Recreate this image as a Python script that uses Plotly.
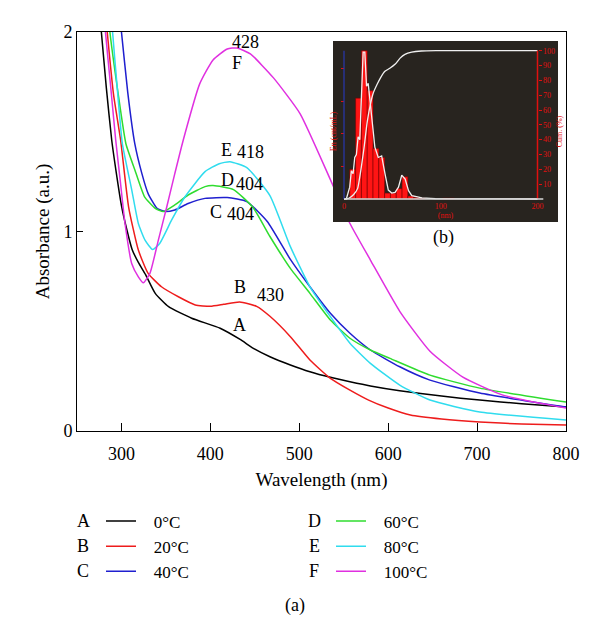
import plotly.graph_objects as go

# ---------------- main spectra (wavelength nm, absorbance a.u.) ----------------
wl_A = [268, 277, 283, 289, 295, 300, 306, 312, 319, 327, 338, 353, 379, 411, 433, 450, 467, 490, 512, 535, 557, 580, 613, 660, 703, 750, 800]
abs_A = [2.45, 2.02, 1.72, 1.46, 1.27, 1.13, 1.01, 0.91, 0.845, 0.785, 0.69, 0.623, 0.565, 0.515, 0.46, 0.41, 0.372, 0.331, 0.297, 0.269, 0.247, 0.226, 0.202, 0.175, 0.155, 0.137, 0.12]

wl_B = [275, 284, 291, 299, 308, 319, 330, 345, 364, 383, 400, 415, 433, 452, 467, 490, 512, 535, 557, 578, 600, 625, 660, 703, 750, 800]
abs_B = [2.45, 2.0, 1.69, 1.46, 1.124, 0.907, 0.79, 0.723, 0.673, 0.632, 0.625, 0.635, 0.647, 0.625, 0.575, 0.473, 0.356, 0.264, 0.205, 0.155, 0.115, 0.08, 0.06, 0.045, 0.035, 0.03]

wl_C = [292, 300, 307, 315, 323, 330, 340, 349, 360, 375, 394, 419, 441, 464, 490, 512, 535, 557, 580, 613, 647, 703, 800]
abs_C = [2.3, 2.0, 1.7, 1.44, 1.29, 1.19, 1.116, 1.10, 1.108, 1.14, 1.166, 1.17, 1.15, 1.05, 0.86, 0.723, 0.59, 0.49, 0.406, 0.322, 0.255, 0.19, 0.12]

wl_D = [278, 287, 296, 305, 315, 326, 338, 347, 360, 375, 394, 403, 426, 448, 467, 490, 512, 535, 557, 580, 602, 647, 703, 800]
abs_D = [2.45, 2.0, 1.70, 1.44, 1.31, 1.174, 1.116, 1.10, 1.133, 1.183, 1.225, 1.23, 1.21, 1.12, 0.975, 0.815, 0.69, 0.556, 0.465, 0.406, 0.364, 0.28, 0.215, 0.145]

wl_E = [282, 290, 296, 301, 311.5, 319, 326.5, 335, 343, 356.5, 371.5, 394, 410, 422, 441, 467, 490, 512, 535, 557, 580, 613, 647, 703, 800]
abs_E = [2.5, 2.0, 1.68, 1.44, 1.21, 1.04, 0.957, 0.91, 0.94, 1.058, 1.174, 1.30, 1.34, 1.35, 1.32, 1.18, 0.924, 0.723, 0.573, 0.44, 0.339, 0.23, 0.155, 0.095, 0.055]

wl_F = [272, 282, 288, 293.5, 299, 304, 311.5, 319, 324.6, 332, 341.5, 351, 360, 369.6, 388, 403, 419, 430, 445, 471, 501, 535, 557, 580, 613, 647, 684, 729, 800]
abs_F = [2.6, 2.0, 1.72, 1.46, 1.24, 1.04, 0.84, 0.773, 0.743, 0.79, 0.957, 1.124, 1.29, 1.46, 1.74, 1.86, 1.915, 1.92, 1.89, 1.77, 1.59, 1.26, 1.04, 0.857, 0.60, 0.40, 0.27, 0.18, 0.115]

letters = ["A", "B", "C", "D", "E", "F"]
temps = ["0°C", "20°C", "40°C", "60°C", "80°C", "100°C"]
colors = ["#000000", "#ee1c1c", "#1f1fcf", "#2fdc2f", "#30dcee", "#e030e0"]

# peak labels: (text, wavelength, absorbance)
peak_text = ["428", "F", "E", "418", "D", "404", "C", "404", "B", "430", "A"]
peak_x = [439, 430, 418, 445, 419, 444, 406, 434, 433, 468, 433]
peak_y = [1.95, 1.845, 1.41, 1.40, 1.26, 1.24, 1.10, 1.09, 0.72, 0.68, 0.53]

# ---------------- inset (b): size distribution ----------------
hist_d = [9, 15, 21, 27, 33, 39, 45, 51, 57, 63, 69, 75, 81, 105, 111]
hist_h = [20, 68, 100, 73, 34, 28, 4, 4, 7, 15, 2, 1, 0.5, 0.5, 0.5]

freq_d = [0, 2.4, 5.9, 7.6, 9.4, 11.1, 12.8, 14.6, 16.3, 18.1, 19.8, 21.5, 23.3, 25, 26.7, 28.5, 31.9, 35.4, 38.9, 42.4, 45.8, 49.3, 52.8, 56.3, 59.7, 63.2, 66.7, 70.1, 80.6, 94.4, 200]
freq_v = [0, 0, 8, 19, 17, 28, 30, 42, 40, 73, 99, 99, 76, 78, 67, 53, 35, 28, 29, 17, 6, 4, 4.5, 8, 16, 13.5, 5.6, 2.3, 0.7, 0.2, 0]

cum_d = [0, 5, 10, 14, 18, 21, 24, 27, 30, 34, 38, 42, 47, 53, 58, 63, 70, 80, 95, 200]
cum_v = [0, 0.5, 3, 7, 22, 36, 52, 63, 71, 77, 82, 86, 88, 91, 95, 97.5, 99, 99.8, 100, 100]

series = [(wl_A, abs_A), (wl_B, abs_B), (wl_C, abs_C), (wl_D, abs_D), (wl_E, abs_E), (wl_F, abs_F)]

FONT = "Liberation Serif"
NB = "\u00a0\u00a0\u00a0"

fig = go.Figure()

for i, (xs, ys) in enumerate(series):
    fig.add_trace(go.Scatter(
        x=xs, y=ys, mode="lines", name=NB + temps[i],
        line=dict(color=colors[i], width=1.5, shape="spline", smoothing=0.5),
        legend="legend" if i < 3 else "legend2", showlegend=True,
    ))

# inset traces
fig.add_trace(go.Bar(x=hist_d, y=hist_h, width=6, xaxis="x2", yaxis="y2",
                     marker=dict(color="#ff1414", line=dict(color="#7a0000", width=0.6)),
                     showlegend=False))
fig.add_trace(go.Scatter(x=freq_d, y=freq_v, mode="lines", xaxis="x2", yaxis="y2",
                         line=dict(color="#f0f0f0", width=1.3), showlegend=False))
fig.add_trace(go.Scatter(x=cum_d, y=cum_v, mode="lines", xaxis="x2", yaxis="y3",
                         line=dict(color="#f0f0f0", width=1.3, shape="spline", smoothing=0.5),
                         showlegend=False))

# geometry of inset (pixel-derived)
L, R, T, B = 77, 566, 32, 431
PW, PH = R - L, B - T
def px(x): return (x - L) / PW
def py(y): return (B - y) / PH

ix0, ix1, iy0, iy1 = 333, 558, 41, 222      # dark panel (pixels)
x0px, x200px = 344, 537.5
y0px, y100px = 199, 50.7
sx = (x200px - x0px) / 200.0
sy = (y0px - y100px) / 100.0
x2range = [-(x0px - ix0) / sx, 200 + (ix1 - x200px) / sx]
y2range = [-(iy1 - y0px) / sy, 100 + (y100px - iy0) / sy]

RED = "#e01010"
small = dict(family=FONT, size=8, color=RED)

fig.update_layout(
    width=600, height=637,
    margin=dict(l=L, r=600 - R, t=T, b=637 - B, autoexpand=False),
    paper_bgcolor="white", plot_bgcolor="white",
    font=dict(family=FONT, size=18, color="black"),
    xaxis=dict(range=[250, 800], tickvals=[300, 400, 500, 600, 700, 800],
               ticks="inside", ticklen=8, tickcolor="black", showline=True, mirror=True,
               linecolor="black", linewidth=1, showgrid=False, zeroline=False,
               ticklabelstandoff=6, automargin=False,
               title=dict(text="Wavelength (nm)", font=dict(size=19), standoff=10)),
    yaxis=dict(range=[0, 2], tickvals=[0, 1, 2], ticks="inside", ticklen=6, tickcolor="black",
               showline=True, mirror=True, linecolor="black", linewidth=1,
               showgrid=False, zeroline=False, automargin=False,
               title=dict(text="Absorbance (a.u.)", font=dict(size=19), standoff=8)),
    xaxis2=dict(domain=[px(ix0), px(ix1)], range=x2range, anchor="free", position=py(y0px),
                tickvals=[0, 100, 200], ticks="", showline=False, showgrid=False, zeroline=False,
                tickfont=small, ticklabelstandoff=1, automargin=False,
                title=dict(text="(nm)", font=small, standoff=0)),
    yaxis2=dict(domain=[py(iy1), py(iy0)], range=y2range, anchor="free", position=px(x0px),
                tickvals=[22, 44, 66, 88], ticks="outside", ticklen=3, tickcolor=RED,
                showticklabels=False, showline=False, showgrid=False, zeroline=False,
                automargin=False,
                title=dict(text="En (cnt/mL)", font=small, standoff=2)),
    yaxis3=dict(overlaying="y2", range=y2range, anchor="free", position=px(x200px), side="right",
                tickvals=[10, 20, 30, 40, 50, 60, 70, 80, 90, 100], ticks="outside", ticklen=3,
                tickcolor=RED, tickfont=small, showline=False, showgrid=False, zeroline=False,
                automargin=False,
                title=dict(text="Cum. (%)", font=small, standoff=2)),
    legend=dict(x=px(101), y=py(503.5), xanchor="left", yanchor="top", bgcolor="rgba(0,0,0,0)",
                font=dict(family=FONT, size=17), itemwidth=30, tracegroupgap=0),
    legend2=dict(x=px(331), y=py(503.5), xanchor="left", yanchor="top", bgcolor="rgba(0,0,0,0)",
                 font=dict(family=FONT, size=17), itemwidth=30, tracegroupgap=0),
    showlegend=True,
)

# dark inset panel and its axis lines
fig.add_shape(type="rect", xref="x2", yref="y2", x0=x2range[0], x1=x2range[1],
              y0=y2range[0], y1=y2range[1], fillcolor="#28241f", line=dict(width=0), layer="below")
fig.add_shape(type="line", xref="x2", yref="y2", x0=0, x1=0, y0=0, y1=100,
              line=dict(color="#2838b0", width=1.2), layer="above")
fig.add_shape(type="line", xref="x2", yref="y2", x0=200, x1=200, y0=0, y1=100,
              line=dict(color=RED, width=1.5), layer="above")
fig.add_shape(type="line", xref="x2", yref="y2", x0=0, x1=206, y0=0, y1=0,
              line=dict(color="#d8d8d8", width=1.5), layer="above")

# peak annotations
for t, x, y in zip(peak_text, peak_x, peak_y):
    fig.add_annotation(x=x, y=y, xref="x", yref="y", text=t, showarrow=False,
                       xanchor="center", yanchor="middle",
                       font=dict(family=FONT, size=18, color="black"))

# legend letters
letter_x = [83, 83, 83, 314, 314, 314]
letter_y = [521, 546, 571, 521, 546, 571]
for t, lx, ly in zip(letters, letter_x, letter_y):
    fig.add_annotation(x=px(lx), y=py(ly), xref="paper", yref="paper", text=t, showarrow=False,
                       xanchor="center", yanchor="middle",
                       font=dict(family=FONT, size=18, color="black"))

fig.add_annotation(x=px(443), y=py(237), xref="paper", yref="paper", text="(b)", showarrow=False,
                   xanchor="center", yanchor="middle",
                   font=dict(family=FONT, size=18, color="black"))
fig.add_annotation(x=px(295), y=py(605), xref="paper", yref="paper", text="(a)", showarrow=False,
                   xanchor="center", yanchor="middle",
                   font=dict(family=FONT, size=18, color="black"))

fig.write_html("out.html", config={"displayModeBar": False},
               post_script="document.body.style.margin='0';document.body.style.overflow='hidden';")
